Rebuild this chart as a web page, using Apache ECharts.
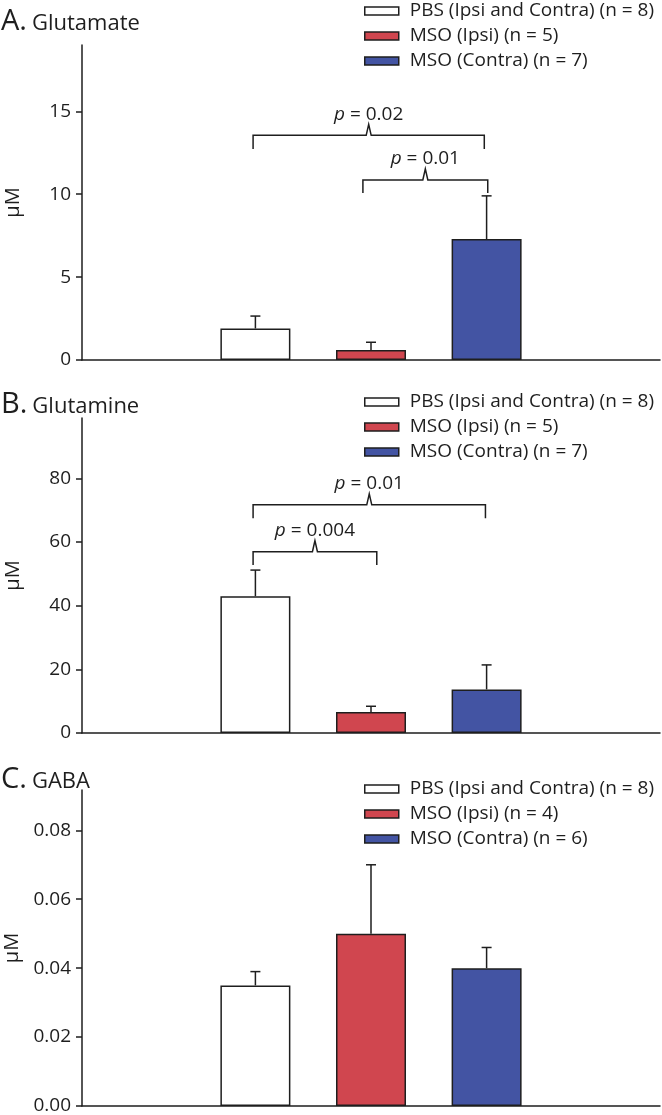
<!DOCTYPE html>
<html>
<head>
<meta charset="utf-8">
<script src="https://cdn.jsdelivr.net/npm/echarts@6/dist/echarts.min.js"></script>
<style>
html,body{margin:0;padding:0;background:#fff;}
#chart{width:662px;height:1115px;}
</style>
</head>
<body>
<div id="chart"></div>
<script>
// ---------- data ----------
const categories = ['', 'PBS', 'MSO (Ipsi)', 'MSO (Contra)', ''];
const groupIndex = [1, 2, 3];
const legendAB = ['PBS (Ipsi and Contra) (n = 8)', 'MSO (Ipsi) (n = 5)', 'MSO (Contra) (n = 7)'];
const legendC = ['PBS (Ipsi and Contra) (n = 8)', 'MSO (Ipsi) (n = 4)', 'MSO (Contra) (n = 6)'];

const panelLetters = ['A.', 'B.', 'C.'];
const panelNames = ['Glutamate', 'Glutamine', 'GABA'];
const yAxisName = 'μM';

const glutamateMean = [1.9, 0.6, 7.3];
const glutamateUpper = [2.65, 1.07, 9.9];
const glutamineMean = [43.0, 6.6, 13.7];
const glutamineUpper = [51.2, 8.4, 21.4];
const gabaMean = [0.035, 0.050, 0.040];
const gabaUpper = [0.039, 0.070, 0.046];

const ticksA = [0, 5, 10, 15];
const ticksB = [0, 20, 40, 60, 80];
const ticksC = [0, 0.02, 0.04, 0.06, 0.08];
const yMax = [19, 99, 0.0917];

// brackets: [from category, to category, bracket level, leg end]
const bracketsA = [[0.98, 2.98, 13.55, 12.73], [1.93, 3.01, 10.86, 10.07]];
const bracketLabelsA = ['0.02', '0.01'];
const bracketsB = [[0.98, 2.99, 71.7, 67.5], [0.98, 2.05, 57.0, 52.8]];
const bracketLabelsB = ['0.01', '0.004'];

// ---------- style ----------
const FONT = 'Open Sans';
const INK = '#1e1e1e';
const colors = ['#ffffff', '#d0464f', '#4354a3'];
const grids = [
  {left: 82, top: 45, width: 578, height: 315},
  {left: 82, top: 418, width: 578, height: 315},
  {left: 82, top: 790, width: 578, height: 316}
];
const legendTops = [1, 392, 779];
const titleTops = [7, 390, 765];

const means = [glutamateMean, glutamineMean, gabaMean];
const uppers = [glutamateUpper, glutamineUpper, gabaUpper];
const ticks = [ticksA, ticksB, ticksC];
const legends = [legendAB, legendAB, legendC];
const brackets = [bracketsA, bracketsB, []];
const bracketLabels = [bracketLabelsA, bracketLabelsB, []];

const option = {
  animation: false,
  backgroundColor: '#fff',
  textStyle: {fontFamily: FONT, color: INK},
  title: [], grid: [], xAxis: [], yAxis: [], legend: [], series: []
};

for (let p = 0; p < 3; p++) {
  option.title.push({
    text: '{l|' + panelLetters[p] + '}{n|' + panelNames[p] + '}',
    left: 1, top: titleTops[p], padding: 0,
    textStyle: {
      fontWeight: 'normal',
      rich: {
        l: {fontSize: 29, fontFamily: FONT, color: INK, fontWeight: 'normal', padding: [0, 5, 0, 0]},
        n: {fontSize: 22, fontFamily: FONT, color: INK, fontWeight: 'normal', padding: [4, 0, 0, 0]}
      }
    }
  });
  option.grid.push(Object.assign({containLabel: false, outerBoundsMode: 'none'}, grids[p]));
  option.xAxis.push({
    type: 'category', gridIndex: p, data: categories,
    axisLine: {lineStyle: {color: INK, width: 1.5}},
    axisTick: {show: false}, axisLabel: {show: false}
  });
  const dec = p === 2 ? 2 : 0;
  option.yAxis.push({
    type: 'value', gridIndex: p, min: 0, max: yMax[p],
    name: yAxisName, nameLocation: 'middle', nameRotate: 90, nameGap: 59,
    nameTextStyle: {fontSize: 20, fontFamily: FONT, color: INK},
    axisLine: {show: true, lineStyle: {color: INK, width: 1.5}},
    axisTick: {show: true, length: 6, lineStyle: {color: INK, width: 1.5}, customValues: ticks[p]},
    axisLabel: {fontSize: 19, fontFamily: FONT, color: INK, margin: 11,
      customValues: ticks[p], formatter: v => Number(v).toFixed(dec)},
    splitLine: {show: false}
  });
  option.legend.push({
    orient: 'vertical', left: 364, top: legendTops[p], padding: 0,
    data: legends[p], itemWidth: 34, itemHeight: 8, itemGap: 5,
    icon: 'rect',
    itemStyle: {borderColor: INK, borderWidth: 1.5},
    textStyle: {fontSize: 19, fontFamily: FONT, color: INK, lineHeight: 20, padding: [0, 0, 0, 6]},
    selectedMode: false
  });
  for (let g = 0; g < 3; g++) {
    const data = categories.map(() => '-');
    data[groupIndex[g]] = means[p][g];
    option.series.push({
      type: 'bar', name: legends[p][g], xAxisIndex: p, yAxisIndex: p,
      data: data, barWidth: 70, barGap: '-100%',
      itemStyle: {color: colors[g], borderColor: INK, borderWidth: 1.5},
      z: 2
    });
  }
  option.series.push({
    type: 'custom', xAxisIndex: p, yAxisIndex: p, z: 3,
    data: groupIndex.map((c, g) => [c, means[p][g], uppers[p][g]]),
    renderItem: function (params, api) {
      const x = api.value(0);
      const b = api.coord([x, api.value(1)]);
      const t = api.coord([x, api.value(2)]);
      const st = {stroke: INK, lineWidth: 1.5};
      return {type: 'group', children: [
        {type: 'line', shape: {x1: b[0], y1: b[1], x2: t[0], y2: t[1]}, style: st},
        {type: 'line', shape: {x1: t[0] - 5, y1: t[1], x2: t[0] + 5, y2: t[1]}, style: st}
      ]};
    }
  });
  if (brackets[p].length) {
    const labels = bracketLabels[p];
    option.series.push({
      type: 'custom', xAxisIndex: p, yAxisIndex: p, z: 4,
      data: brackets[p],
      renderItem: function (params, api) {
        const bw = api.size([1, 0])[0];
        const pos = function (v, y) {
          const r = Math.round(v);
          const c = api.coord([r, y]);
          return [c[0] + (v - r) * bw, c[1]];
        };
        const a = pos(api.value(0), api.value(2));
        const b = pos(api.value(1), api.value(2));
        const aLeg = pos(api.value(0), api.value(3));
        const bLeg = pos(api.value(1), api.value(3));
        const mx = (a[0] + b[0]) / 2;
        const y = a[1];
        return {type: 'group', children: [
          {type: 'polyline', shape: {points: [
            [aLeg[0], aLeg[1]], [a[0], y], [mx - 2.5, y], [mx, y - 11], [mx + 2.5, y], [b[0], y], [bLeg[0], bLeg[1]]
          ]}, style: {stroke: INK, lineWidth: 1.5, fill: null}},
          {type: 'text', x: mx, y: y - 21, style: {
            text: '{i|p} = ' + labels[params.dataIndex],
            align: 'center', verticalAlign: 'middle',
            fontSize: 19, fontFamily: FONT, fill: INK,
            rich: {i: {fontStyle: 'italic', fontSize: 19, fontFamily: FONT, fill: INK}}
          }}
        ]};
      }
    });
  }
}

const chart = echarts.init(document.getElementById('chart'), null, {renderer: 'canvas'});
chart.setOption(option);
</script>
</body>
</html>
